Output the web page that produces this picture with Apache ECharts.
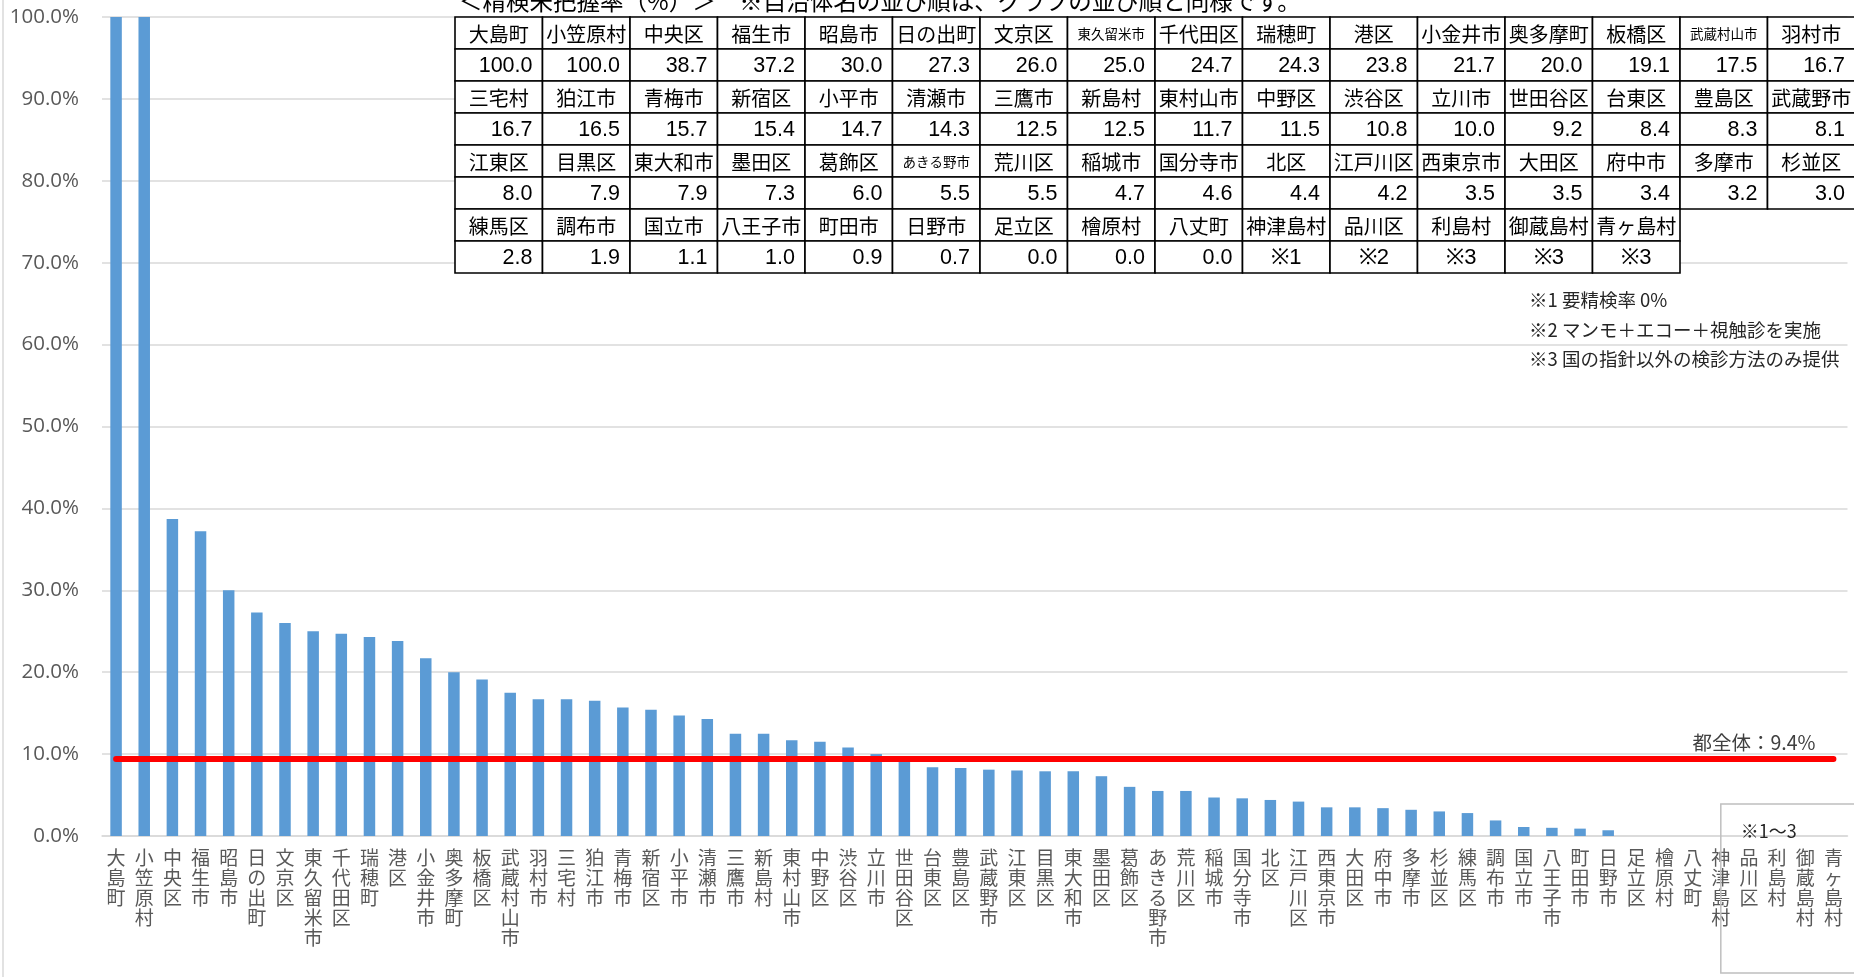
<!DOCTYPE html>
<html>
<head>
<meta charset="utf-8">
<script src="https://cdn.jsdelivr.net/npm/echarts@6/dist/echarts.min.js"></script>
<style>
  html, body { margin: 0; padding: 0; background: #fff; }
  #chart { width: 1854px; height: 977px; }
</style>
</head>
<body>
<div id="chart"></div>
<script>
// ---------------- data ----------------
const categories = [
  '大島町','小笠原村','中央区','福生市','昭島市','日の出町','文京区','東久留米市','千代田区','瑞穂町','港区','小金井市','奥多摩町','板橋区','武蔵村山市','羽村市',
  '三宅村','狛江市','青梅市','新宿区','小平市','清瀬市','三鷹市','新島村','東村山市','中野区','渋谷区','立川市','世田谷区','台東区','豊島区','武蔵野市',
  '江東区','目黒区','東大和市','墨田区','葛飾区','あきる野市','荒川区','稲城市','国分寺市','北区','江戸川区','西東京市','大田区','府中市','多摩市','杉並区',
  '練馬区','調布市','国立市','八王子市','町田市','日野市','足立区','檜原村','八丈町','神津島村','品川区','利島村','御蔵島村','青ヶ島村'
];
const rates = [
  100.0, 100.0, 38.7, 37.2, 30.0, 27.3, 26.0, 25.0, 24.7, 24.3, 23.8, 21.7, 20.0, 19.1, 17.5, 16.7,
  16.7, 16.5, 15.7, 15.4, 14.7, 14.3, 12.5, 12.5, 11.7, 11.5, 10.8, 10.0, 9.2, 8.4, 8.3, 8.1,
  8.0, 7.9, 7.9, 7.3, 6.0, 5.5, 5.5, 4.7, 4.6, 4.4, 4.2, 3.5, 3.5, 3.4, 3.2, 3.0,
  2.8, 1.9, 1.1, 1.0, 0.9, 0.7, 0.0, 0.0, 0.0, null, null, null, null, null
];
const noteMarks = { '神津島村': '※1', '品川区': '※2', '利島村': '※3', '御蔵島村': '※3', '青ヶ島村': '※3' };
const overallRate = 9.4;
const overallLabel = '都全体：9.4%';
const yTickStep = 10;
const tableTitle = '＜精検未把握率（%）＞　※自治体名の並び順は、グラフの並び順と同様です。';
const footnotes = ['※1 要精検率 0%', '※2 マンモ＋エコー＋視触診を実施', '※3 国の指針以外の検診方法のみ提供'];
const boxLabel = '※1～3';

// ---------------- chart ----------------
const chart = echarts.init(document.getElementById('chart'));
const labelColor = '#595959';
const gridColor = '#d9d9d9';
const jp = '"Noto Sans CJK JP", "Noto Sans", sans-serif';
const numFont = '"Liberation Sans Narrow", "Liberation Sans", sans-serif';

chart.setOption({
  animation: false,
  backgroundColor: '#fff',
  grid: { left: 102, right: 6.5, top: 17, bottom: 141, containLabel: false },
  xAxis: {
    type: 'category',
    data: categories,
    axisTick: { show: false },
    axisLine: { lineStyle: { color: gridColor, width: 1.5 } },
    axisLabel: {
      interval: 0,
      margin: 12,
      color: labelColor,
      fontFamily: jp,
      fontSize: 19,
      lineHeight: 20,
      verticalAlign: 'top',
      formatter: s => s.split('').join('\n')
    }
  },
  yAxis: {
    type: 'value',
    min: 0,
    max: 100,
    interval: yTickStep,
    axisLine: { show: false },
    axisTick: { show: false },
    splitLine: { lineStyle: { color: gridColor, width: 1.5 } },
    axisLabel: {
      margin: 23,
      color: labelColor,
      fontFamily: '"Open Sans", "Noto Sans", sans-serif',
      fontSize: 20.5,
      formatter: v => v.toFixed(1) + '%'
    }
  },
  series: [{
    type: 'bar',
    data: rates,
    barWidth: 11.5,
    itemStyle: { color: '#5B9BD5' },
    silent: true,
    markLine: {
      silent: true,
      symbol: 'none',
      animation: false,
      lineStyle: { color: '#ff0000', width: 6, type: 'solid', cap: 'round' },
      label: {
        show: true,
        position: 'insideEndTop',
        formatter: overallLabel,
        color: '#404040',
        fontFamily: jp,
        fontSize: 19.5,
        distance: [18, 7]
      },
      emphasis: { disabled: true },
      data: [[
        { coord: [categories[0], overallRate] },
        { coord: [categories[categories.length - 1], overallRate] }
      ]]
    }
  }]
});

// ---------------- table + annotations (built from the arrays) ----------------
const graphics = [];
const colsPerRow = 16, cellW = 87.5, cellH = 32, tableLeft = 455, tableTop = 17;

graphics.push({
  type: 'text', z: 110,
  x: 459, y: 1,
  style: { text: tableTitle, fill: '#000', font: '23.5px ' + jp, verticalAlign: 'middle', align: 'left' }
});

for (let i = 0; i < categories.length; i++) {
  const r = Math.floor(i / colsPerRow), c = i % colsPerRow;
  const x = tableLeft + c * cellW;
  const yName = tableTop + r * 2 * cellH;
  const yVal = yName + cellH;
  const name = categories[i];
  graphics.push({
    type: 'rect', z: 100,
    shape: { x: x, y: yName, width: cellW, height: cellH },
    style: { fill: '#fff', stroke: '#000', lineWidth: 1.6 }
  });
  graphics.push({
    type: 'rect', z: 100,
    shape: { x: x, y: yVal, width: cellW, height: cellH },
    style: { fill: '#fff', stroke: '#000', lineWidth: 1.6 }
  });
  const nameSize = name.length >= 5 ? 13.5 : 20;
  graphics.push({
    type: 'text', z: 105, x: x + cellW / 2, y: yName + cellH / 2 + 1,
    style: { text: name, fill: '#000', font: nameSize + 'px ' + jp, align: 'center', verticalAlign: 'middle' }
  });
  const note = noteMarks[name];
  if (note) {
    graphics.push({
      type: 'text', z: 105, x: x + cellW / 2, y: yVal + cellH / 2 + 1,
      style: { text: note, fill: '#000', font: '22px ' + numFont, align: 'center', verticalAlign: 'middle' }
    });
  } else {
    graphics.push({
      type: 'text', z: 105, x: x + cellW - 10, y: yVal + cellH / 2 + 1,
      style: { text: rates[i].toFixed(1), fill: '#000', font: '21.5px ' + numFont, align: 'right', verticalAlign: 'middle' }
    });
  }
}

footnotes.forEach((t, k) => {
  graphics.push({
    type: 'text', z: 105, x: 1529, y: 300 + k * 29.5,
    style: { text: t, fill: '#262626', font: '18.5px ' + jp, align: 'left', verticalAlign: 'middle' }
  });
});

// left chart-area border
graphics.push({
  type: 'line', z: 90,
  shape: { x1: 3, y1: 0, x2: 3, y2: 977 },
  style: { stroke: gridColor, lineWidth: 1.5 }
});

// box around the noted municipalities
const firstNoted = categories.find(n => noteMarks[n]);
const boxX = chart.convertToPixel({ xAxisIndex: 0 }, firstNoted);
graphics.push({
  type: 'rect', z: 90,
  shape: { x: boxX, y: 804, width: 1854 - boxX + 10, height: 169 },
  style: { fill: 'none', stroke: '#bfbfbf', lineWidth: 1.5 }
});
graphics.push({
  type: 'text', z: 95, x: boxX + 20, y: 831,
  style: { text: boxLabel, fill: '#262626', font: '18px ' + jp, align: 'left', verticalAlign: 'middle' }
});

chart.setOption({ graphic: { elements: graphics } });
</script>
</body>
</html>
